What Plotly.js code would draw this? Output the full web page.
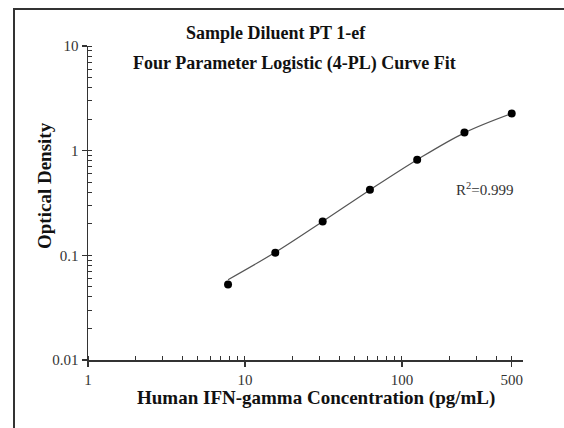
<!DOCTYPE html>
<html>
<head>
<meta charset="utf-8">
<script src="https://cdn.plot.ly/plotly-3.0.1.min.js"></script>
<style>
html,body{margin:0;padding:0;background:#fff;}
#wrap{position:relative;width:564px;height:428px;overflow:hidden;}
#chart{width:564px;height:428px;}
#frame{position:absolute;left:13px;top:8px;width:600px;height:500px;border-left:2px solid #333;border-top:2px solid #333;pointer-events:none;}
</style>
</head>
<body>
<div id="wrap"><div id="chart"></div><div id="frame"></div></div>
<script>
const concentration = [7.8, 15.6, 31.25, 62.5, 125, 250, 500];
const measuredOD = [0.0525, 0.106, 0.21, 0.424, 0.82, 1.49, 2.26];
const fittedOD = [0.0585, 0.107, 0.211, 0.422, 0.82, 1.48, 2.26];
const xTickVals = [1, 10, 100, 500];
const xTickText = ['1', '10', '100', '500'];
const yTickVals = [0.01, 0.1, 1, 10];
const yTickText = ['0.01', '0.1', '1', '10'];
const titleLine1 = 'Sample Diluent PT 1-ef';
const titleLine2 = 'Four Parameter Logistic (4-PL) Curve Fit';
const xTitle = 'Human IFN-gamma Concentration (pg/mL)';
const yTitle = 'Optical Density';
const r2Text = 'R<sup>2</sup>=0.999';

const serif = 'Liberation Serif, Times New Roman, serif';

const traces = [
  {
    x: concentration, y: fittedOD, type: 'scatter', mode: 'lines',
    line: {color: '#555', width: 1.2, shape: 'spline'}, hoverinfo: 'skip', showlegend: false
  },
  {
    x: concentration, y: measuredOD, type: 'scatter', mode: 'markers',
    marker: {color: '#000', size: 8}, showlegend: false
  }
];

const layout = {
  width: 564, height: 428,
  margin: {l: 88, r: 41, t: 46, b: 68},
  paper_bgcolor: '#fff', plot_bgcolor: '#fff',
  showlegend: false,
  font: {family: serif, color: '#222', size: 15},
  xaxis: {
    type: 'log', range: [0, 2.771],
    tickmode: 'array', tickvals: xTickVals, ticktext: xTickText,
    ticks: 'outside', ticklen: 5, tickwidth: 1.2, tickcolor: '#333',
    showline: true, linecolor: '#333', linewidth: 1.5,
    showgrid: false, zeroline: false,
    tickfont: {family: serif, size: 15, color: '#333'},
    minor: {dtick: 'D1', ticks: 'inside', ticklen: 4, tickwidth: 1, tickcolor: '#333', showgrid: false}
  },
  yaxis: {
    type: 'log', range: [-2, 1],
    tickmode: 'array', tickvals: yTickVals, ticktext: yTickText,
    ticks: 'outside', ticklen: 5, tickwidth: 1.2, tickcolor: '#333',
    showline: true, linecolor: '#333', linewidth: 1.5,
    showgrid: false, zeroline: false,
    tickfont: {family: serif, size: 15, color: '#333'},
    minor: {dtick: 'D1', ticks: 'inside', ticklen: 4, tickwidth: 1, tickcolor: '#333', showgrid: false}
  },
  annotations: [
    {text: '<b>' + titleLine1 + '</b>', xref: 'paper', yref: 'paper',
     x: (276 - 88) / 435, y: (360 - 33) / 314, xanchor: 'center', yanchor: 'middle',
     showarrow: false, font: {family: serif, size: 18, color: '#111'}},
    {text: '<b>' + titleLine2 + '</b>', xref: 'paper', yref: 'paper',
     x: (294 - 88) / 435, y: (360 - 63) / 314, xanchor: 'center', yanchor: 'middle',
     showarrow: false, font: {family: serif, size: 18, color: '#111'}},
    {text: '<b>' + xTitle + '</b>', xref: 'paper', yref: 'paper',
     x: (316 - 88) / 435, y: (360 - 398) / 314, xanchor: 'center', yanchor: 'middle',
     showarrow: false, font: {family: serif, size: 19, color: '#111'}},
    {text: '<b>' + yTitle + '</b>', xref: 'paper', yref: 'paper', textangle: -90,
     x: (44 - 88) / 435, y: (360 - 186) / 314, xanchor: 'center', yanchor: 'middle',
     showarrow: false, font: {family: serif, size: 19, color: '#111'}},
    {text: r2Text, xref: 'paper', yref: 'paper',
     x: (484 - 88) / 435, y: (360 - 189) / 314, xanchor: 'center', yanchor: 'middle',
     showarrow: false, font: {family: serif, size: 15, color: '#333'}}
  ]
};

Plotly.newPlot('chart', traces, layout, {displayModeBar: false, staticPlot: true});
</script>
</body>
</html>
